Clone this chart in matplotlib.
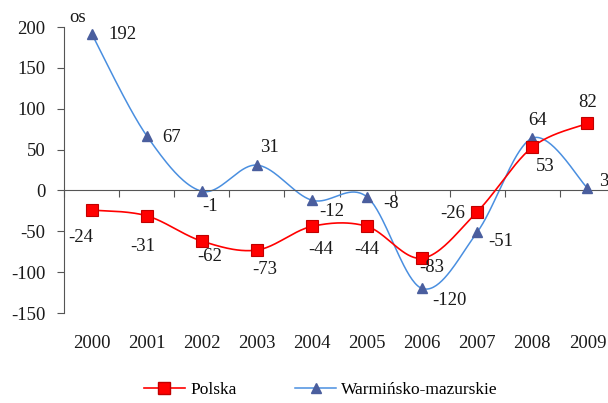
import numpy as np
import matplotlib
matplotlib.use("Agg")
import matplotlib.pyplot as plt
from matplotlib.lines import Line2D
from matplotlib.transforms import blended_transform_factory

# ============================================================
# Data
# ============================================================

years = ["2000", "2001", "2002", "2003", "2004",
         "2005", "2006", "2007", "2008", "2009"]
polska = [-24, -31, -62, -73, -44, -44, -83, -26, 53, 82]
warminsko = [192, 67, -1, 31, -12, -8, -120, -51, 64, 3]

# label offsets in points (dx, dy)
polska_off = [(-8, -20), (-3, -22), (6, -11), (6, -14), (6, -17),
              (0, -17), (7, -7), (-18, -1), (9, -14), (0, 15)]
warm_off = [(22, -1), (18, -1), (6, -11), (9, 13), (14, -8),
            (17, -5), (20, -9), (17, -7), (4, 13), (12, 5)]

plt.rcParams["font.family"] = ["Liberation Serif", "DejaVu Serif"]
plt.rcParams["axes.unicode_minus"] = False

FS = 13.5
TXT = "#1a1a1a"


def smooth(y, n=40):
    # Excel-style smoothed line (Catmull-Rom as cubic Bezier)
    y = np.asarray(y, dtype=float)
    x = np.arange(len(y), dtype=float)
    xp = np.concatenate([[x[0]], x, [x[-1]]])
    yp = np.concatenate([[y[0]], y, [y[-1]]])
    xs, ys = [], []
    t = np.linspace(0, 1, n)
    for i in range(len(y) - 1):
        p0 = np.array([x[i], y[i]])
        p3 = np.array([x[i + 1], y[i + 1]])
        p1 = p0 + (np.array([xp[i + 2], yp[i + 2]]) - np.array([xp[i], yp[i]])) / 6
        p2 = p3 - (np.array([xp[i + 3], yp[i + 3]]) - np.array([xp[i + 1], yp[i + 1]])) / 6
        b = (((1 - t) ** 3)[:, None] * p0 + (3 * (1 - t) ** 2 * t)[:, None] * p1
             + (3 * (1 - t) * t ** 2)[:, None] * p2 + (t ** 3)[:, None] * p3)
        xs.append(b[:, 0])
        ys.append(b[:, 1])
    return np.concatenate(xs), np.concatenate(ys)


# ============================================================
# Plot
# ============================================================

fig = plt.figure(figsize=(6.08, 4.03), dpi=100)
ax = fig.add_axes([64 / 608, 90 / 403, 551 / 608, 286 / 403])

x = np.arange(len(years))
red = "#FF0000"
blue_line = "#4A8FE0"
blue_mark = "#4A5E9E"

sx, sy = smooth(warminsko)
ax.plot(sx, sy, color=blue_line, lw=1.1, zorder=2)
ax.plot(x, warminsko, ls="none", marker="^", ms=7,
        mfc=blue_mark, mec=blue_mark, zorder=3)

sx, sy = smooth(polska)
ax.plot(sx, sy, color=red, lw=1.2, zorder=4)
ax.plot(x, polska, ls="none", marker="s", ms=8,
        mfc=red, mec="#C00000", mew=0.8, zorder=5)

for i in range(len(years)):
    ax.annotate(str(polska[i]), (x[i], polska[i]), xytext=polska_off[i],
                textcoords="offset points", ha="center", va="center",
                fontsize=FS, color=TXT, zorder=6)
    ax.annotate(str(warminsko[i]), (x[i], warminsko[i]), xytext=warm_off[i],
                textcoords="offset points", ha="center", va="center",
                fontsize=FS, color=TXT, zorder=6)

ax.set_xlim(-0.5, len(years) - 0.5)
ax.set_ylim(-150, 200)
ax.set_yticks(range(-150, 201, 50))

for s in ["top", "right"]:
    ax.spines[s].set_visible(False)
ax.spines["bottom"].set_position(("data", 0))
ax.spines["bottom"].set_color("#555555")
ax.spines["left"].set_color("#555555")

ax.set_xticks(np.arange(len(years) + 1) - 0.5)
ax.tick_params(axis="x", direction="out", length=5, color="#555555",
               labelbottom=False)
ax.tick_params(axis="y", direction="out", length=5, color="#555555",
               labelsize=FS, pad=8.5, labelcolor=TXT)

trans = blended_transform_factory(ax.transData, ax.transAxes)
for i, yr in enumerate(years):
    ax.text(i, -0.105, yr, transform=trans, ha="center", va="center",
            fontsize=FS, color=TXT)

fig.text(78 / 608, 1 - 17 / 403, "os", ha="center", va="center",
         fontsize=FS, color=TXT)

handles = [
    Line2D([], [], color=red, lw=1.2, marker="s", ms=8,
           mfc=red, mec="#C00000"),
    Line2D([], [], color=blue_line, lw=1.1, marker="^", ms=7,
           mfc=blue_mark, mec=blue_mark),
]
fig.legend(handles, ["Polska", "Warmińsko-mazurskie"], ncol=2,
           loc="center", bbox_to_anchor=(0.528, 13 / 403), frameon=False,
           fontsize=12.5, handlelength=2.35, columnspacing=3.4,
           handletextpad=0.3)

fig.savefig("out.png", dpi=100)
